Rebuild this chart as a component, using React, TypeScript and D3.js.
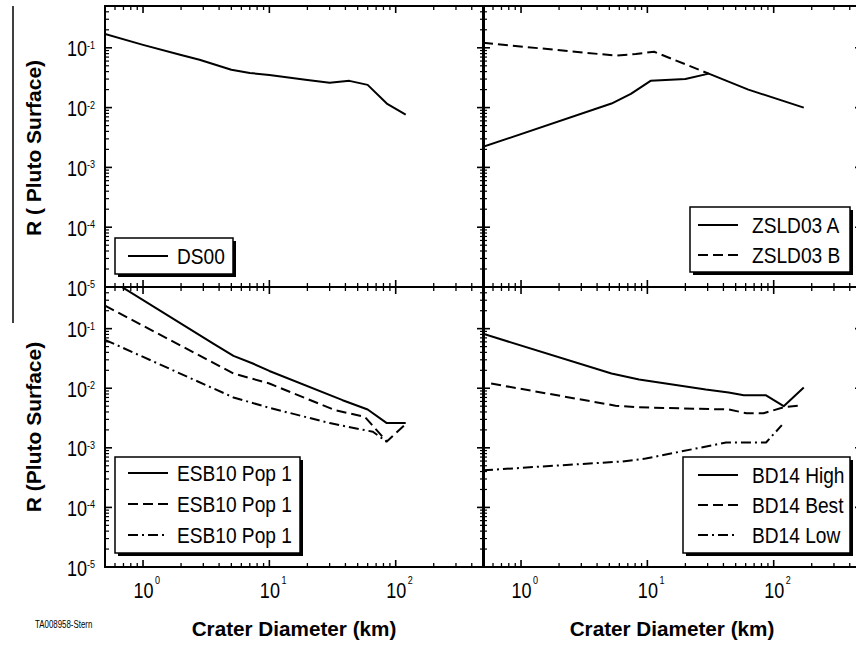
import React from "react";
import * as d3 from "d3";

// ---------- DATA ----------
const ds00D = [0.5, 1, 2, 2.8, 5, 7, 10, 20, 30, 43, 60, 85, 120];
const ds00R = [0.17, 0.112, 0.076, 0.063, 0.043, 0.038, 0.035, 0.029, 0.026, 0.028, 0.024, 0.0117, 0.0076];

const zsldAD = [0.5, 5.2, 7.4, 10.6, 20, 30.6, 63, 173];
const zsldAR = [0.0022, 0.0117, 0.017, 0.028, 0.03, 0.037, 0.02, 0.01];
const zsldBD = [0.5, 5.6, 8.1, 11.3, 30.6];
const zsldBR = [0.121, 0.074, 0.079, 0.086, 0.037];

const esbSolidD = [0.5, 3.6, 5.2, 7.4, 10, 38, 60, 85, 120];
const esbSolidR = [0.75, 0.056, 0.035, 0.026, 0.0195, 0.0063, 0.0044, 0.0026, 0.0026];
const esbDashD = [0.5, 5.2, 10, 33, 57, 85, 120];
const esbDashR = [0.243, 0.0177, 0.012, 0.0043, 0.0033, 0.00128, 0.0025];
const esbDotD = [0.5, 5.2, 10, 30, 66, 85];
const esbDotR = [0.065, 0.007, 0.0047, 0.0026, 0.00186, 0.00126];

const bdHighD = [0.5, 5.2, 8.6, 29, 44, 58, 87, 120, 173];
const bdHighR = [0.082, 0.0177, 0.014, 0.0095, 0.0085, 0.0076, 0.0076, 0.005, 0.0103];
const bdBestD = [0.58, 5.6, 8.1, 44, 61, 83, 120, 158];
const bdBestR = [0.012, 0.0051, 0.0048, 0.0044, 0.0038, 0.0038, 0.0048, 0.0051];
const bdLowD = [0.5, 6.3, 9.7, 42, 87, 116];
const bdLowR = [0.00042, 0.00059, 0.00066, 0.00123, 0.00123, 0.0024];

const xMajor = [1, 10, 100];
const xMajorExp = ["0", "1", "2"];
const yMajor = [1e-1, 1e-2, 1e-3, 1e-4, 1e-5];
const yMajorExp = ["-1", "-2", "-3", "-4", "-5"];

const xTitle = "Crater Diameter (km)";
const yTitleTop = "R ( Pluto Surface)";
const yTitleBottom = "R (Pluto Surface)";
const credit = "TA008958-Stern";

// ---------- STYLE ----------
const FONT = "'Liberation Sans', Arial, Helvetica, sans-serif";
const SOLID = "none";
const DASH = "10,5";
const DASHDOT = "10,4,2,4";
const NARROW = 0.82; // horizontal squeeze of tick labels
const LEG_NARROW = 0.87; // horizontal squeeze of legend text

type Series = { name: string; D: number[]; R: number[]; dash: string };

const X_DOMAIN: [number, number] = [0.5, 500];
const Y_DOMAIN: [number, number] = [1e-5, 0.5];

function minorTicks(lo: number, hi: number, expLo: number, expHi: number) {
  const out: number[] = [];
  for (let e = expLo; e <= expHi; e++) {
    for (let k = 2; k <= 9; k++) {
      const v = k * Math.pow(10, e);
      if (v >= lo * 0.999 && v <= hi * 1.001) out.push(v);
    }
  }
  return out;
}

const xMinor = minorTicks(X_DOMAIN[0], X_DOMAIN[1], -1, 2);
const yMinor = minorTicks(Y_DOMAIN[0], Y_DOMAIN[1], -5, -1);

function Panel(props: {
  id: string;
  x0: number; x1: number; y0: number; y1: number;
  series: Series[];
  legend: { x: number; y: number; w: number; h: number; lineX: number; textX: number; rows: number[] };
  yLabels: boolean; xLabels: boolean;
}) {
  const { id, x0, x1, y0, y1, series, legend, yLabels, xLabels } = props;
  const xs = d3.scaleLog().domain(X_DOMAIN).range([x0, x1]);
  const ys = d3.scaleLog().domain(Y_DOMAIN).range([y1, y0]);
  const line = d3.line<[number, number]>().x((d) => xs(d[0])).y((d) => ys(d[1]));
  const maj = 7, mnr = 4;
  return (
    <g>
      <defs>
        <clipPath id={id}>
          <rect x={x0} y={y0} width={x1 - x0} height={y1 - y0} />
        </clipPath>
      </defs>
      <g clipPath={`url(#${id})`}>
        {series.map((s, i) => (
          <path key={i} d={line(s.D.map((d, j) => [d, s.R[j]]) as [number, number][]) || ""}
            fill="none" stroke="#000" strokeWidth={2} strokeDasharray={s.dash} strokeLinejoin="round" />
        ))}
      </g>
      <rect x={x0} y={y0} width={x1 - x0} height={y1 - y0} fill="none" stroke="#000" strokeWidth={2} />
      {xMajor.map((v, i) => (
        <g key={"xm" + i}>
          <line x1={xs(v)} x2={xs(v)} y1={y1} y2={y1 - maj} stroke="#000" strokeWidth={1.6} />
          <line x1={xs(v)} x2={xs(v)} y1={y0} y2={y0 + maj} stroke="#000" strokeWidth={1.6} />
        </g>
      ))}
      {xMinor.map((v, i) => (
        <g key={"xn" + i}>
          <line x1={xs(v)} x2={xs(v)} y1={y1} y2={y1 - mnr} stroke="#000" strokeWidth={1.3} />
          <line x1={xs(v)} x2={xs(v)} y1={y0} y2={y0 + mnr} stroke="#000" strokeWidth={1.3} />
        </g>
      ))}
      {yMajor.map((v, i) => (
        <g key={"ym" + i}>
          <line x1={x0} x2={x0 + maj} y1={ys(v)} y2={ys(v)} stroke="#000" strokeWidth={1.6} />
          <line x1={x1} x2={x1 - maj} y1={ys(v)} y2={ys(v)} stroke="#000" strokeWidth={1.6} />
        </g>
      ))}
      {yMinor.map((v, i) => (
        <g key={"yn" + i}>
          <line x1={x0} x2={x0 + mnr} y1={ys(v)} y2={ys(v)} stroke="#000" strokeWidth={1.2} />
          <line x1={x1} x2={x1 - mnr} y1={ys(v)} y2={ys(v)} stroke="#000" strokeWidth={1.2} />
        </g>
      ))}
      {yLabels && yMajor.map((v, i) => (
        <text key={"yl" + i} transform={`translate(${x0 - 38},${ys(v) + 8.5}) scale(${NARROW},1)`}
          fontFamily={FONT} fontSize={22} fill="#000">
          10<tspan fontSize={11} dy={-7.5}>{yMajorExp[i]}</tspan>
        </text>
      ))}
      {xLabels && xMajor.map((v, i) => (
        <text key={"xl" + i} transform={`translate(${xs(v) - 9.5},${y1 + 31}) scale(${NARROW},1)`}
          fontFamily={FONT} fontSize={22} fill="#000">
          10<tspan fontSize={11} dx={1.8} dy={-14}>{xMajorExp[i]}</tspan>
        </text>
      ))}
      <g>
        <rect x={legend.x + 3} y={legend.y + 3} width={legend.w} height={legend.h} fill="#000" />
        <rect x={legend.x} y={legend.y} width={legend.w} height={legend.h} fill="#fff" stroke="#000" strokeWidth={1.5} />
        {series.map((s, i) => (
          <g key={"lg" + i}>
            <line x1={legend.lineX} x2={legend.lineX + 40} y1={legend.rows[i]} y2={legend.rows[i]}
              stroke="#000" strokeWidth={2} strokeDasharray={s.dash} />
            <text transform={`translate(${legend.textX},${legend.rows[i] + 8}) scale(${LEG_NARROW},1)`}
              fontFamily={FONT} fontSize={22}>{s.name}</text>
          </g>
        ))}
      </g>
    </g>
  );
}

export default function App() {
  const L = { x0: 105, x1: 484 };
  const R = { x0: 483, x1: 862 };
  const T = { y0: 6, y1: 287 };
  const B = { y0: 287, y1: 567 };

  const tl: Series[] = [{ name: "DS00", D: ds00D, R: ds00R, dash: SOLID }];
  const tr: Series[] = [
    { name: "ZSLD03 A", D: zsldAD, R: zsldAR, dash: SOLID },
    { name: "ZSLD03 B", D: zsldBD, R: zsldBR, dash: DASH },
  ];
  const bl: Series[] = [
    { name: "ESB10 Pop 1", D: esbSolidD, R: esbSolidR, dash: SOLID },
    { name: "ESB10 Pop 1", D: esbDashD, R: esbDashR, dash: DASH },
    { name: "ESB10 Pop 1", D: esbDotD, R: esbDotR, dash: DASHDOT },
  ];
  const br: Series[] = [
    { name: "BD14 High", D: bdHighD, R: bdHighR, dash: SOLID },
    { name: "BD14 Best", D: bdBestD, R: bdBestR, dash: DASH },
    { name: "BD14 Low", D: bdLowD, R: bdLowR, dash: DASHDOT },
  ];

  return (
    <svg width={856} height={648} style={{ position: "absolute", left: 0, top: 0, background: "#fff" }}>
      <rect x={0} y={0} width={856} height={648} fill="#fff" />
      <line x1={13} x2={13} y1={6} y2={323} stroke="#000" strokeWidth={1.5} />
      <Panel id="c-tl" x0={L.x0} x1={L.x1} y0={T.y0} y1={T.y1} series={tl} yLabels xLabels={false}
        legend={{ x: 115, y: 238, w: 118, h: 36, lineX: 128, textX: 177, rows: [256] }} />
      <Panel id="c-bl" x0={L.x0} x1={L.x1} y0={B.y0} y1={B.y1} series={bl} yLabels xLabels
        legend={{ x: 115, y: 457, w: 185, h: 96, lineX: 128, textX: 177, rows: [473, 504, 535] }} />
      <Panel id="c-tr" x0={R.x0} x1={R.x1} y0={T.y0} y1={T.y1} series={tr} yLabels={false} xLabels={false}
        legend={{ x: 690, y: 207, w: 160, h: 65, lineX: 698, textX: 752, rows: [225, 255] }} />
      <Panel id="c-br" x0={R.x0} x1={R.x1} y0={B.y0} y1={B.y1} series={br} yLabels={false} xLabels
        legend={{ x: 683, y: 457, w: 167, h: 96, lineX: 698, textX: 752, rows: [475, 505, 535] }} />

      <text transform="translate(41,148) rotate(-90)" textAnchor="middle" fontFamily={FONT}
        fontWeight="bold" fontSize={21}>{yTitleTop}</text>
      <text transform="translate(41,427) rotate(-90)" textAnchor="middle" fontFamily={FONT}
        fontWeight="bold" fontSize={21}>{yTitleBottom}</text>
      <text x={294} y={636} textAnchor="middle" fontFamily={FONT} fontWeight="bold" fontSize={20.7}>{xTitle}</text>
      <text x={672} y={636} textAnchor="middle" fontFamily={FONT} fontWeight="bold" fontSize={20.7}>{xTitle}</text>
      <text transform="translate(35,628) scale(0.79,1)" fontFamily={FONT} fontSize={10}>{credit}</text>
    </svg>
  );
}
